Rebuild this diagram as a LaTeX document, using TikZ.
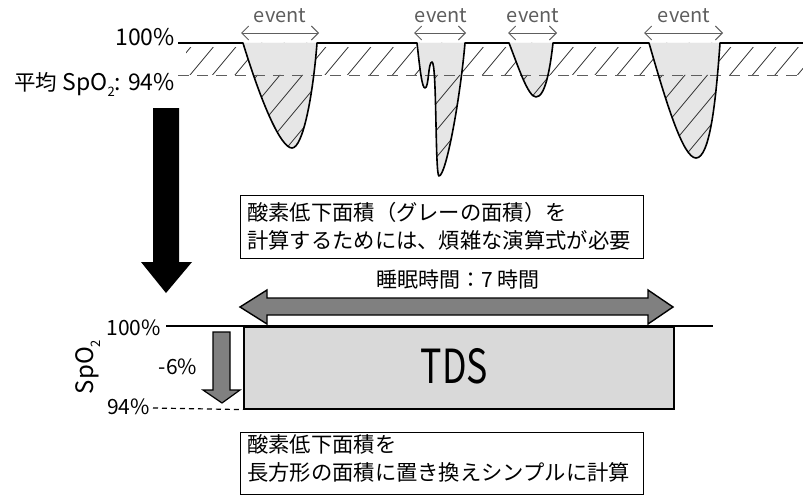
\documentclass[tikz,border=0pt]{standalone}
\usepackage{fontspec}
\setmainfont{Noto Sans CJK JP}
\usetikzlibrary{arrows.meta}
\definecolor{dipfill}{HTML}{E6E6E6}
\definecolor{tdsfill}{HTML}{D9D9D9}
\definecolor{arrowgray}{HTML}{808080}
\definecolor{evgray}{HTML}{5E5E5E}
\newcommand{\subtwo}{\raisebox{-0.3em}{\fontsize{13}{13}\selectfont 2}}
\begin{document}
\begin{tikzpicture}[x=1pt,y=-1pt,
  lbl/.style={font=\fontsize{21}{24}\selectfont, inner sep=0pt},
  toplbl/.style={font=\fontsize{23}{26}\selectfont, inner sep=0pt},
  evt/.style={font=\fontsize{20}{24}\selectfont, text=evgray, inner sep=0pt},
  evarrow/.style={draw=evgray, line width=0.9pt,
    {Straight Barb[length=7pt,width=14pt]}-{Straight Barb[length=7pt,width=14pt]}},
  boxframe/.style={draw, line width=0.8pt, minimum width=403pt, inner sep=0pt, anchor=north west},
  boxtext/.style={font=\fontsize{21.3}{28}\selectfont, align=left, anchor=west, inner sep=0pt},
  hatch/.style={line width=0.8pt, black!80},
  thick line/.style={line width=1.6pt},
  grayarrow/.style={fill=arrowgray, draw=black, line width=1.4pt, line join=miter}]
\useasboundingbox (0,0) rectangle (803,495);
% dip shapes
\def\dipA{(243,43) .. controls (262,105) and (281,148) .. (292,148) .. controls (303,148) and (313,95) .. (317,43)}
\def\dipB{(417,43) .. controls (420,70) and (422,88) .. (425,88) .. controls (429,88) and (428,62) .. (432,62) .. controls (437,62) and (435,176) .. (439,176) .. controls (446,176) and (460,100) .. (465,43)}
\def\dipC{(509,43) .. controls (518,66) and (528,97) .. (536,97) .. controls (545,97) and (550,70) .. (553,43)}
\def\dipD{(649,43) .. controls (666,102) and (683,158) .. (696,158) .. controls (710,158) and (716,100) .. (720,43)}
\fill[dipfill] \dipA -- cycle;
\fill[dipfill] \dipB -- cycle;
\fill[dipfill] \dipC -- cycle;
\fill[dipfill] \dipD -- cycle;
% hatching
\begin{scope}[even odd rule]
  \clip (186,43) rectangle (803,75) \dipA -- cycle \dipB -- cycle \dipC -- cycle \dipD -- cycle;
  \foreach \i in {0,...,34} {
    \draw[hatch] (80+\i*22.5,180) -- ++(150,-180);
  }
\end{scope}
% small gap under the 100% line
\fill[white] (186,43) rectangle (803,47);
\begin{scope}
  \clip (186,43) rectangle (803,47);
  \fill[dipfill] \dipA -- cycle;
  \fill[dipfill] \dipB -- cycle;
  \fill[dipfill] \dipC -- cycle;
  \fill[dipfill] \dipD -- cycle;
\end{scope}
% 94% dashed
\draw[evgray, line width=0.9pt, dash pattern=on 11pt off 8pt] (178,75) -- (803,75);
% 100% line with dips
\draw[thick line, line join=round] (178,43) -- \dipA -- \dipB -- \dipC -- \dipD -- (803,43);
% events
\node[evt] (ev1) at (280,16) {event};
\node[evt] (ev2) at (441,16) {event};
\node[evt] (ev3) at (533,16) {event};
\node[evt] (ev4) at (684,16) {event};
\coordinate (e1a) at (241,33); \coordinate (e1b) at (319,33);
\coordinate (e2a) at (414,33); \coordinate (e2b) at (466,33);
\coordinate (e3a) at (508,33); \coordinate (e3b) at (557,33);
\coordinate (e4a) at (644,33); \coordinate (e4b) at (723,33);
\draw[evarrow] (e1a) -- (e1b);
\draw[evarrow] (e2a) -- (e2b);
\draw[evarrow] (e3a) -- (e3b);
\draw[evarrow] (e4a) -- (e4b);
% left labels top
\node[toplbl, anchor=base east] (top100) at (175,46) {100\%};
\node[toplbl, anchor=base east] (topavg) at (175,90) {{\fontsize{21.5}{24}\selectfont 平均} SpO\subtwo: 94\%};
% big black arrow
\fill (153,108) -- (179,108) -- (179,262) -- (192,262) -- (166,293) -- (141,262) -- (153,262) -- cycle;
% box 1
\node[boxframe, minimum height=63pt] (box1) at (240,195) {};
\node[boxtext] (box1txt) at (247,226.5) {酸素低下面積（グレーの面積）を\\計算するためには、煩雑な演算式が必要};
% sleep time
\node[lbl] (sleep) at (458,280) {睡眠時間：7 時間};
\filldraw[grayarrow] (240,307) -- (267,290) -- (267,298) -- (648,298) -- (648,290) -- (673,307) -- (648,324) -- (648,315) -- (267,315) -- (267,324) -- cycle;
% TDS
\draw[thick line] (166,326) -- (713,326);
\node[draw, fill=tdsfill, line width=1.6pt, minimum width=430pt, minimum height=82pt, anchor=north west, inner sep=0pt] (tds) at (243,326) {};
\node[font=\fontsize{47}{50}\selectfont, inner sep=0pt, xscale=0.76] (tdstxt) at (454.5,366) {TDS};
% small arrow
\filldraw[grayarrow, line width=1.2pt] (213,332) -- (230,332) -- (230,390) -- (240,390) -- (222,403) -- (203,390) -- (213,390) -- cycle;
\node[lbl, anchor=base east] (bot100) at (161,335) {100\%};
\node[lbl, anchor=base east] (bot94) at (150,414) {94\%};
\node[lbl] (minus6) at (178,367) {-6\%};
\node[lbl, rotate=90, font=\fontsize{24}{26}\selectfont] (spo2) at (88,367) {SpO\subtwo};
\coordinate (d94a) at (153,408);
\draw[line width=1.2pt, dash pattern=on 5pt off 4pt] (d94a) -- (tds.south west);
% box 2
\node[boxframe, minimum height=62pt] (box2) at (240,432) {};
\node[boxtext] (box2txt) at (247,458) {酸素低下面積を\\長方形の面積に置き換えシンプルに計算};
\end{tikzpicture}
\end{document}
